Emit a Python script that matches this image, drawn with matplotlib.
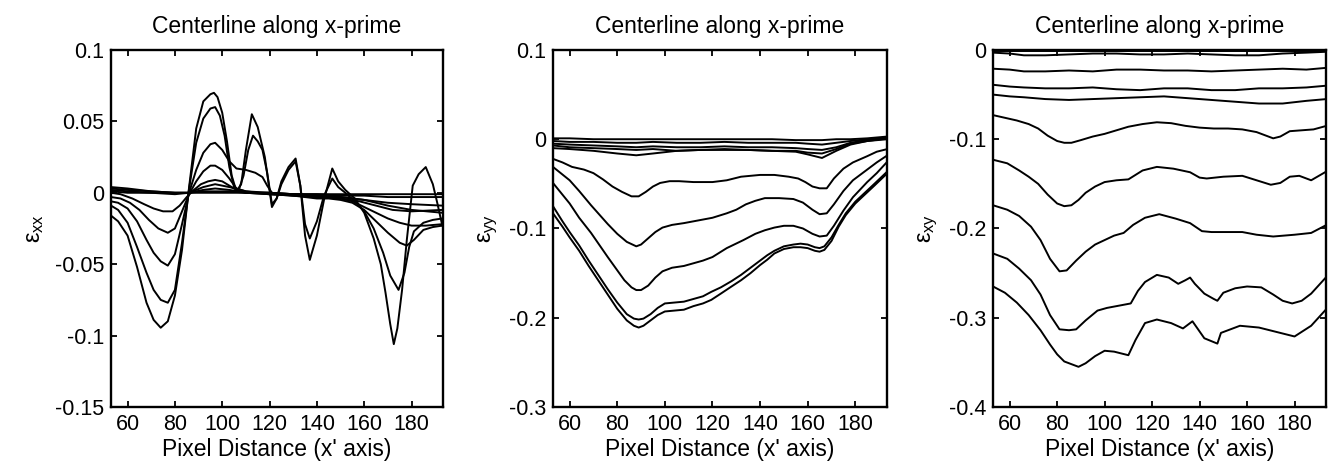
import matplotlib
matplotlib.use('Agg')
import matplotlib.pyplot as plt
from matplotlib.ticker import FormatStrFormatter

plt.rcParams['font.family'] = ['Liberation Sans', 'DejaVu Sans']
plt.rcParams['mathtext.fontset'] = 'custom'
plt.rcParams['mathtext.rm'] = 'Liberation Sans'
plt.rcParams['mathtext.it'] = 'Liberation Sans'
plt.rcParams['axes.unicode_minus'] = False

# ---------------- strain xx ----------------
exx_a_x = [53, 56, 60, 64, 68, 71, 74, 77, 80, 83, 86, 89, 92, 95, 96.5, 98, 100, 102, 104, 106,
           108, 110, 112.5, 115, 118, 121, 123, 125, 128, 131, 133, 135, 137, 140, 143, 146.5, 149, 152, 156, 160,
           164, 167, 169, 171, 172.5, 174, 176, 178, 180.5, 183, 186, 189, 191, 193]
exx_a_y = [-0.016, -0.020, -0.030, -0.052, -0.077, -0.089, -0.0945, -0.090, -0.072, -0.040, 0.004, 0.045, 0.064, 0.069, 0.070, 0.067, 0.056, 0.036, 0.012, 0.001,
           0.006, 0.030, 0.055, 0.046, 0.025, -0.010, -0.004, 0.008, 0.018, 0.024, 0.005, -0.030, -0.047, -0.030, -0.005, 0.017, 0.008, 0.002, -0.004, -0.014,
           -0.032, -0.050, -0.070, -0.092, -0.106, -0.095, -0.068, -0.033, 0.005, 0.013, 0.018, 0.006, -0.008, -0.023]

exx_b_x = [53, 56, 60, 64, 68, 71, 74, 77, 80, 83, 86, 89, 92, 95, 97, 99, 101, 103, 105, 107,
           109, 111, 113, 115, 117, 119, 121, 123, 125, 128, 131, 133, 135, 137, 140, 143, 146.5, 149, 152, 156,
           160, 164, 168, 171, 174.5, 177, 179, 181, 185, 189, 193]
exx_b_y = [-0.009, -0.012, -0.021, -0.038, -0.056, -0.068, -0.075, -0.077, -0.068, -0.035, 0.003, 0.035, 0.052, 0.059, 0.060, 0.054, 0.040, 0.018, 0.004, 0.002,
           0.012, 0.030, 0.040, 0.036, 0.030, 0.014, -0.008, -0.004, 0.006, 0.016, 0.022, 0.005, -0.022, -0.032, -0.020, -0.002, 0.010, 0.004, 0.000, -0.006,
           -0.013, -0.025, -0.042, -0.058, -0.068, -0.056, -0.038, -0.027, -0.021, -0.019, -0.018]

exx_c_x = [53, 56, 60, 64, 68, 71, 74, 77, 80, 83, 86, 89, 92, 95, 97, 100, 103, 106, 110, 114,
           117, 119, 121, 125, 130, 135, 140, 145, 150, 155, 160, 165, 170, 175, 178, 181, 185, 189, 193]
exx_c_y = [-0.006, -0.007, -0.011, -0.020, -0.033, -0.042, -0.048, -0.051, -0.043, -0.022, 0.000, 0.016, 0.028, 0.034, 0.035, 0.030, 0.022, 0.017, 0.016, 0.014,
           0.011, 0.005, 0.000, -0.001, -0.002, -0.003, -0.004, -0.004, -0.005, -0.007, -0.012, -0.020, -0.028, -0.035, -0.037, -0.033, -0.026, -0.024, -0.023]

exx_d_x = [53, 57, 61, 65, 69, 73, 77, 80, 83, 86, 89, 92, 95, 97, 100, 103, 106, 110, 115, 120,
           130, 140, 150, 155, 160, 165, 170, 175, 180, 186, 193]
exx_d_y = [-0.003, -0.004, -0.007, -0.012, -0.019, -0.025, -0.028, -0.025, -0.013, -0.001, 0.008, 0.015, 0.019, 0.019, 0.016, 0.010, 0.003, 0.001, 0.000, -0.001,
           -0.002, -0.003, -0.004, -0.006, -0.010, -0.014, -0.018, -0.021, -0.023, -0.023, -0.022]

exx_e_x = [53, 57, 62, 67, 71, 75, 79, 82, 85, 88, 91, 94, 97, 100, 103, 106, 110, 120, 130, 140,
           150, 158, 165, 172, 180, 193]
exx_e_y = [0.000, -0.001, -0.004, -0.008, -0.011, -0.013, -0.013, -0.009, -0.003, 0.002, 0.006, 0.008, 0.009, 0.008, 0.005, 0.002, 0.000, -0.001, -0.002, -0.003,
           -0.004, -0.006, -0.009, -0.012, -0.013, -0.012]

exx_flat_x = [53, 60, 70, 80, 86, 92, 97, 103, 110, 120, 130, 140, 150, 160, 170, 180, 193]
exx_f_y = [0.004, 0.003, 0.001, 0.000, 0.000, 0.004, 0.006, 0.004, 0.001, 0.000, -0.001, -0.001, -0.002, -0.002, -0.003, -0.003, -0.003]
exx_g_y = [0.003, 0.002, 0.001, 0.000, 0.000, 0.002, 0.003, 0.002, 0.000, 0.000, -0.001, -0.002, -0.003, -0.005, -0.007, -0.008, -0.009]
exx_h_y = [0.002, 0.001, 0.000, 0.000, 0.000, 0.001, 0.001, 0.001, 0.000, -0.001, -0.001, -0.002, -0.003, -0.005, -0.009, -0.012, -0.014]
exx_i_y = [0.001, 0.000, 0.000, -0.001, 0.000, 0.000, 0.000, 0.000, 0.000, 0.000, -0.001, -0.001, -0.001, -0.001, -0.001, -0.001, -0.001]

# ---------------- strain yy ----------------
eyy_low_x = [53, 57, 60, 64, 68, 72, 76, 80, 84, 87, 89, 91, 94, 97, 100, 104, 108, 112, 116, 119.5,
             123.5, 128, 132, 136, 140, 143, 146, 150, 154, 157, 160, 163, 165, 167, 170, 173, 176, 180, 184, 188, 193.5]
eyy_q5_y = [-0.083, -0.098, -0.110, -0.125, -0.142, -0.158, -0.174, -0.190, -0.203, -0.209, -0.211, -0.209, -0.203, -0.197, -0.193, -0.192, -0.191, -0.187, -0.184, -0.180,
            -0.173, -0.165, -0.158, -0.150, -0.141, -0.135, -0.128, -0.123, -0.121, -0.121, -0.122, -0.125, -0.126, -0.124, -0.114, -0.098, -0.085, -0.072, -0.062, -0.052, -0.038]
eyy_q4_y = [-0.075, -0.092, -0.104, -0.119, -0.136, -0.152, -0.168, -0.183, -0.196, -0.201, -0.202, -0.201, -0.196, -0.189, -0.184, -0.183, -0.182, -0.179, -0.176, -0.171,
            -0.166, -0.159, -0.152, -0.144, -0.136, -0.130, -0.125, -0.120, -0.118, -0.117, -0.118, -0.121, -0.122, -0.120, -0.110, -0.096, -0.083, -0.070, -0.060, -0.050, -0.036]

eyy_q3_x = [53, 60, 64, 69, 76, 83, 86, 88, 90, 93, 96, 99, 103, 108, 112, 116, 120, 126, 133, 138,
            142, 146, 150, 154, 158, 162, 165, 168, 171, 175, 179, 185, 189, 193.5]
eyy_q3_y = [-0.049, -0.072, -0.088, -0.105, -0.132, -0.158, -0.166, -0.169, -0.169, -0.164, -0.155, -0.148, -0.144, -0.142, -0.139, -0.136, -0.132, -0.122, -0.113, -0.106,
            -0.102, -0.099, -0.097, -0.097, -0.100, -0.106, -0.109, -0.108, -0.097, -0.080, -0.065, -0.048, -0.038, -0.025]

eyy_q2_x = [53, 60, 64, 69, 76, 80, 84, 88, 90, 93, 96, 99, 103, 108, 112, 116, 120, 126, 130, 134,
            138, 142, 148, 154, 158, 162, 165, 168, 171, 175, 179, 185, 189, 193.5]
eyy_q2_y = [-0.031, -0.046, -0.058, -0.074, -0.095, -0.106, -0.115, -0.120, -0.118, -0.111, -0.104, -0.099, -0.096, -0.094, -0.092, -0.090, -0.088, -0.083, -0.079, -0.073,
            -0.069, -0.066, -0.066, -0.067, -0.071, -0.079, -0.084, -0.083, -0.073, -0.058, -0.046, -0.034, -0.026, -0.018]

eyy_q1_x = [53, 57, 61, 66, 70, 74, 78, 82, 86, 89, 92, 95, 98, 102, 106, 112, 120, 126, 132, 140,
            146, 152, 156, 159, 162, 165, 168, 171, 175, 179, 185, 189, 193.5]
eyy_q1_y = [-0.022, -0.026, -0.031, -0.034, -0.038, -0.045, -0.053, -0.059, -0.064, -0.064, -0.059, -0.053, -0.049, -0.047, -0.047, -0.048, -0.048, -0.046, -0.042, -0.040,
            -0.040, -0.042, -0.044, -0.048, -0.053, -0.055, -0.055, -0.044, -0.033, -0.026, -0.019, -0.014, -0.011]

eyy_flat_x = [53, 60, 70, 80, 88, 95, 105, 115, 125, 135, 145, 155, 160, 166, 172, 178, 185, 193.5]
eyy_r1_y = [0.001, 0.001, 0.000, 0.000, 0.000, 0.000, 0.000, 0.000, 0.000, 0.000, 0.000, -0.001, -0.001, -0.001, 0.000, 0.000, 0.001, 0.003]
eyy_r2_y = [-0.002, -0.003, -0.003, -0.004, -0.004, -0.003, -0.004, -0.004, -0.003, -0.004, -0.004, -0.004, -0.005, -0.006, -0.004, -0.002, 0.000, 0.002]
eyy_r3_y = [-0.005, -0.006, -0.007, -0.008, -0.009, -0.008, -0.009, -0.009, -0.008, -0.009, -0.009, -0.010, -0.011, -0.012, -0.009, -0.004, -0.001, 0.001]
eyy_r4_y = [-0.007, -0.009, -0.010, -0.011, -0.012, -0.011, -0.013, -0.012, -0.011, -0.012, -0.013, -0.013, -0.015, -0.016, -0.011, -0.005, -0.002, 0.000]
eyy_r5_y = [-0.010, -0.011, -0.013, -0.016, -0.018, -0.016, -0.013, -0.012, -0.012, -0.012, -0.013, -0.014, -0.017, -0.021, -0.013, -0.006, -0.002, 0.001]

# ---------------- strain xy ----------------
exy_flat_x = [53, 60, 66, 75, 85, 95, 105, 115, 125, 135, 145, 155, 165, 175, 185, 193.5]
exy_s0_y = [-0.001] * 16
exy_s1_y = [-0.003, -0.004, -0.006, -0.006, -0.005, -0.004, -0.004, -0.005, -0.005, -0.004, -0.005, -0.006, -0.006, -0.004, -0.003, -0.002]
exy_s2_y = [-0.021, -0.022, -0.024, -0.024, -0.023, -0.024, -0.022, -0.022, -0.023, -0.023, -0.024, -0.023, -0.022, -0.021, -0.022, -0.020]
exy_s3_y = [-0.039, -0.041, -0.042, -0.043, -0.043, -0.042, -0.044, -0.045, -0.043, -0.043, -0.045, -0.045, -0.043, -0.043, -0.042, -0.040]
exy_s4_y = [-0.050, -0.052, -0.053, -0.055, -0.056, -0.055, -0.054, -0.053, -0.052, -0.054, -0.056, -0.058, -0.060, -0.060, -0.057, -0.055]

exy_s5_x = [53, 58, 63, 68, 72, 76, 80, 83, 86, 90, 95, 100, 105, 110, 116, 122, 128, 134, 140, 146,
            152, 158, 164, 168, 171, 174, 178, 183, 188, 193.5]
exy_s5_y = [-0.073, -0.076, -0.079, -0.083, -0.088, -0.096, -0.102, -0.104, -0.104, -0.101, -0.097, -0.094, -0.090, -0.086, -0.083, -0.081, -0.082, -0.085, -0.087, -0.088,
            -0.088, -0.089, -0.092, -0.096, -0.099, -0.097, -0.091, -0.090, -0.089, -0.085]

exy_s6_x = [53, 59, 64, 68, 72, 76, 80, 83, 86, 89, 92, 96, 100, 105, 110, 116, 122, 129, 136, 140,
            143, 150, 158, 164, 170, 174, 178, 182, 187, 193.5]
exy_s6_y = [-0.123, -0.127, -0.135, -0.142, -0.150, -0.162, -0.172, -0.175, -0.174, -0.168, -0.160, -0.153, -0.148, -0.146, -0.145, -0.135, -0.131, -0.133, -0.137, -0.143,
            -0.144, -0.142, -0.141, -0.146, -0.151, -0.149, -0.142, -0.141, -0.146, -0.136]

exy_s7_x = [53, 59, 64, 69, 73, 77, 81, 84, 88, 92, 96, 100, 104, 108, 112, 117, 123, 130, 136, 141,
            145, 150, 158, 164, 171, 180, 187, 193.5]
exy_s7_y = [-0.174, -0.179, -0.186, -0.198, -0.213, -0.234, -0.248, -0.247, -0.236, -0.226, -0.218, -0.213, -0.208, -0.205, -0.196, -0.188, -0.184, -0.189, -0.194, -0.203,
            -0.204, -0.204, -0.204, -0.207, -0.209, -0.207, -0.205, -0.196]

exy_s8_x = [53, 59, 64, 69, 73, 77, 81, 85, 88, 92, 97, 101, 105, 109, 111, 114, 117, 122, 127, 131,
            134, 136, 138, 142, 146, 147.5, 150, 155, 160, 166, 171, 175, 179, 183, 187, 193.5]
exy_s8_y = [-0.228, -0.234, -0.245, -0.258, -0.274, -0.297, -0.313, -0.314, -0.313, -0.303, -0.292, -0.289, -0.287, -0.285, -0.284, -0.270, -0.260, -0.252, -0.255, -0.262,
            -0.258, -0.255, -0.262, -0.273, -0.279, -0.281, -0.272, -0.267, -0.265, -0.266, -0.274, -0.281, -0.284, -0.281, -0.273, -0.254]

exy_s9_x = [53, 58, 63, 68, 73, 77, 80, 83, 86, 89, 92, 96, 100, 104, 107, 110, 113, 117, 122, 128,
            133, 137, 142, 147.5, 149, 157, 165, 174, 180, 187, 193.5]
exy_s9_y = [-0.265, -0.272, -0.283, -0.297, -0.314, -0.330, -0.341, -0.349, -0.352, -0.355, -0.351, -0.343, -0.337, -0.338, -0.340, -0.342, -0.325, -0.306, -0.302, -0.306,
            -0.312, -0.304, -0.323, -0.329, -0.317, -0.309, -0.311, -0.317, -0.321, -0.309, -0.290]

x_ticks = [60, 80, 100, 120, 140, 160, 180]
exx_ticks = [0.1, 0.05, 0, -0.05, -0.1, -0.15]
eyy_ticks = [0.1, 0, -0.1, -0.2, -0.3]
exy_ticks = [0, -0.1, -0.2, -0.3, -0.4]

fig = plt.figure(figsize=(13.36, 4.75), dpi=100)

def setup(ax, ylim, yticks, ylab):
  ax.set_xlim(53, 193.3)
  ax.set_ylim(*ylim)
  ax.set_xticks(x_ticks)
  ax.set_yticks(yticks)
  ax.yaxis.set_major_formatter(FormatStrFormatter('%g'))
  ax.tick_params(direction='in', top=True, right=True, length=4.5, width=1.3, labelsize=15.5, pad=5)
  for sp in ax.spines.values():
    sp.set_linewidth(1.7)
  ax.set_title('Centerline along x-prime', fontsize=16.5, pad=12)
  ax.set_xlabel("Pixel Distance (x' axis)", fontsize=16.5, labelpad=2)
  ax.set_ylabel(ylab, fontsize=17, labelpad=6)

lw = 1.4

ax1 = fig.add_axes([0.0831, 0.1432, 0.2485, 0.7516])
for xs, ys in [(exx_flat_x, exx_f_y), (exx_flat_x, exx_g_y), (exx_flat_x, exx_h_y), (exx_flat_x, exx_i_y),
               (exx_e_x, exx_e_y), (exx_d_x, exx_d_y), (exx_c_x, exx_c_y), (exx_b_x, exx_b_y), (exx_a_x, exx_a_y)]:
  ax1.plot(xs, ys, color='k', lw=lw)
setup(ax1, (-0.15, 0.1), exx_ticks, r'$\varepsilon_{\mathrm{xx}}$')

ax2 = fig.add_axes([0.4139, 0.1432, 0.2500, 0.7516])
for xs, ys in [(eyy_flat_x, eyy_r1_y), (eyy_flat_x, eyy_r2_y), (eyy_flat_x, eyy_r3_y), (eyy_flat_x, eyy_r4_y),
               (eyy_flat_x, eyy_r5_y), (eyy_q1_x, eyy_q1_y), (eyy_q2_x, eyy_q2_y), (eyy_q3_x, eyy_q3_y),
               (eyy_low_x, eyy_q4_y), (eyy_low_x, eyy_q5_y)]:
  ax2.plot(xs, ys, color='k', lw=lw)
setup(ax2, (-0.3, 0.1), eyy_ticks, r'$\varepsilon_{\mathrm{yy}}$')

ax3 = fig.add_axes([0.7433, 0.1432, 0.2493, 0.7516])
for xs, ys in [(exy_flat_x, exy_s0_y), (exy_flat_x, exy_s1_y), (exy_flat_x, exy_s2_y), (exy_flat_x, exy_s3_y),
               (exy_flat_x, exy_s4_y), (exy_s5_x, exy_s5_y), (exy_s6_x, exy_s6_y), (exy_s7_x, exy_s7_y),
               (exy_s8_x, exy_s8_y), (exy_s9_x, exy_s9_y)]:
  ax3.plot(xs, ys, color='k', lw=lw)
setup(ax3, (-0.4, 0), exy_ticks, r'$\varepsilon_{\mathrm{xy}}$')

fig.savefig('out.png', dpi=100)
